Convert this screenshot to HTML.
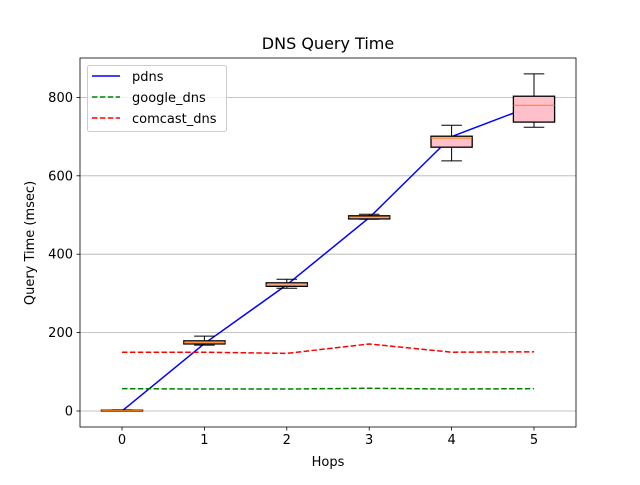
<!DOCTYPE html>
<html><head><meta charset="utf-8"><style>body{margin:0;background:#fff}svg{font-family:"DejaVu Sans","Liberation Sans",sans-serif}</style></head>
<body>
<svg id="chart" width="640" height="480" viewBox="0 0 640 480" xmlns="http://www.w3.org/2000/svg">
<rect width="640" height="480" fill="#fff"/>
<g id="grid"></g><g id="series"></g><g id="boxes"></g><g id="axes"></g>
</svg>
<script>
const hops = [0,1,2,3,4,5];
const pdns = [0,172,322,493,700,780];
const googleDns = [57,56,56,58,56,57];
const comcastDns = [150,150,147,171,150,151];
const whiskLow = [0,168,313,489,638,724];
const q1 = [0,171,318,490,673,737];
const med = [1,174,321,495,696,780];
const q3 = [2,179,327,498,701,803];
const whiskHigh = [3,191,336,502,729,860];
const yTicks = [0,200,400,600,800];
const L=80,R=576,T=58,B=427;
const x = v => 122 + v*82.4;
const y = v => 411 - v*0.392;
const NS="http://www.w3.org/2000/svg";
function mk(tag, attrs, parent){const e=document.createElementNS(NS,tag);for(const k in attrs)e.setAttribute(k,attrs[k]);parent.appendChild(e);return e;}
const grid=document.getElementById('grid'),ser=document.getElementById('series'),bx=document.getElementById('boxes'),ax=document.getElementById('axes');
yTicks.forEach(t=>{const g=mk('line',{x1:L,x2:R,y1:y(t),y2:y(t),stroke:'#b0b0b0','stroke-width':0.8},grid);
});
function line(vals,color,dash,name){const p=mk('polyline',{points:vals.map((v,i)=>x(hops[i])+','+y(v)).join(' '),fill:'none',stroke:color,'stroke-width':1.5,'stroke-dasharray':dash},ser);
}
line(pdns,'#0000ff','none','pdns-line');
line(googleDns,'#008000','5.5,2.4','google-dns-line');
line(comcastDns,'#ff0000','5.5,2.4','comcast-dns-line');
hops.forEach((h,i)=>{const g=mk('g',{},bx);
const cx=x(h),hw=20.6,cw=10.3;
mk('line',{x1:cx,x2:cx,y1:y(q1[i]),y2:y(whiskLow[i]),stroke:'#000'},g);
mk('line',{x1:cx,x2:cx,y1:y(q3[i]),y2:y(whiskHigh[i]),stroke:'#000'},g);
mk('line',{x1:cx-cw,x2:cx+cw,y1:y(whiskLow[i]),y2:y(whiskLow[i]),stroke:'#000'},g);
mk('line',{x1:cx-cw,x2:cx+cw,y1:y(whiskHigh[i]),y2:y(whiskHigh[i]),stroke:'#000'},g);
mk('rect',{x:cx-hw,y:y(q3[i]),width:2*hw,height:Math.max(0.5,y(q1[i])-y(q3[i])),fill:'#ffc0cb',stroke:'#000','stroke-width':1.3},g);
mk('line',{x1:cx-hw,x2:cx+hw,y1:y(med[i]),y2:y(med[i]),stroke:'#ff7f0e'},g);});
mk('rect',{x:L,y:T,width:R-L,height:B-T,fill:'none',stroke:'#000','stroke-width':0.8},ax);
yTicks.forEach(t=>{mk('line',{x1:L-3.5,x2:L,y1:y(t),y2:y(t),stroke:'#000','stroke-width':0.8},ax);
const tx=mk('text',{x:L-7,y:y(t)+4.5,'font-size':13,'text-anchor':'end'},ax);tx.textContent=t;
});
hops.forEach(h=>{mk('line',{x1:x(h),x2:x(h),y1:B,y2:B+3.5,stroke:'#000','stroke-width':0.8},ax);
const tx=mk('text',{x:x(h),y:B+17,'font-size':13,'text-anchor':'middle'},ax);tx.textContent=h;
});
</script>
<svg style="position:absolute;left:0;top:0" width="640" height="480">
<text x="328" y="49" font-size="16" text-anchor="middle">DNS Query Time</text>
<text x="328" y="466" font-size="13" text-anchor="middle">Hops</text>
<text x="34" y="243" font-size="13" text-anchor="middle" transform="rotate(-90 34 243)">Query Time (msec)</text>
<g font-size="13">
<rect x="87.5" y="65.5" width="139" height="66" rx="2" fill="#fff" fill-opacity="0.8" stroke="#ccc"/>
<line x1="92" x2="120" y1="76" y2="76" stroke="#0000ff" stroke-width="1.5"/><text x="132" y="81">pdns</text>
<line x1="92" x2="120" y1="97" y2="97" stroke="#008000" stroke-width="1.5" stroke-dasharray="5.5,2.4"/><text x="132" y="102">google_dns</text>
<line x1="92" x2="120" y1="118" y2="118" stroke="#ff0000" stroke-width="1.5" stroke-dasharray="5.5,2.4"/><text x="132" y="123">comcast_dns</text>
</g>
</svg>
</body></html>
